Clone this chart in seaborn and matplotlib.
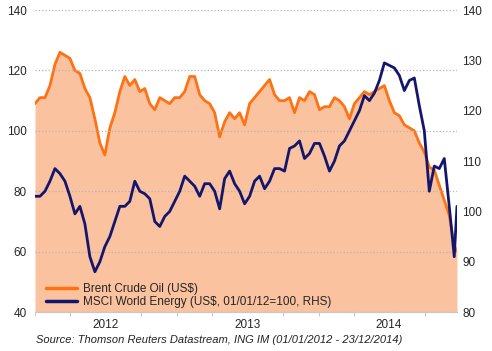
import numpy as np
import pandas as pd
import matplotlib
matplotlib.use('Agg')
import matplotlib.pyplot as plt
import matplotlib.dates as mdates
import seaborn as sns

# values, roughly every 2 weeks
brent = [109, 111, 111, 115, 122, 126, 125, 124, 120, 119,
         114, 111, 104, 96, 92, 101, 106, 113, 118, 115,
         117, 113, 114, 109, 107, 111, 110, 109, 111, 111,
         113, 118, 118, 112, 110, 109, 106, 98, 103, 106,
         104, 106, 102, 109, 111, 113, 115, 117, 112, 110,
         110, 111, 106, 111, 110, 113, 112, 107, 108, 108,
         111, 110, 108, 104, 109, 111, 113, 112, 113, 114,
         115, 110, 106, 105, 102, 101, 100, 96, 93, 88,
         87, 82, 77, 72, 62, 60]
msci = [103, 103, 104, 106, 108.5, 107.5, 106, 103, 99.5, 101,
        97.5, 91, 88, 90, 93, 95, 98, 101, 101, 102,
        106, 104, 103.5, 102.5, 98, 97, 99, 100, 102, 104,
        107, 106, 105, 103, 105.5, 105.5, 104, 100.5, 106.5, 108,
        105.5, 104, 101.5, 103, 106, 107, 104.5, 106, 108.5, 108.5,
        108, 112.5, 113, 114, 110.5, 111.5, 113.5, 113.5, 111, 108,
        110, 113, 114, 116, 118, 120, 123, 122, 123.5, 126,
        129.5, 129, 128.5, 127, 124, 126, 126.5, 121, 116, 104,
        109, 108.5, 110.5, 101, 91, 101]
dates = list(pd.date_range('2012-01-01', '2014-12-16', periods=85)) + [pd.Timestamp('2014-12-23')]
left_ticks = [40, 60, 80, 100, 120, 140]
right_ticks = [80, 90, 100, 110, 120, 130, 140]

df = pd.DataFrame({'date': dates, 'brent': brent, 'msci': msci})

sns.set_style('white')
plt.rcParams['font.family'] = ['Liberation Sans', 'DejaVu Sans']

fig = plt.figure(figsize=(4.92, 3.51), dpi=100)
ax = fig.add_axes([0.0711, 0.111, 0.8577, 0.8604])

ax.fill_between(df['date'], df['brent'], 40, color='#fbc29f', lw=0, zorder=0.3)
sns.lineplot(data=df, x='date', y='brent', ax=ax, color='#ff7214', lw=2, legend=False)
ax.set_ylim(40, 140)
ax.set_yticks(left_ticks)
ax.yaxis.grid(True, linestyle=':', color='#b4b4b4', lw=0.9)
ax.set_axisbelow(False)

ax2 = ax.twinx()
sns.lineplot(data=df, x='date', y='msci', ax=ax2, color='#14166e', lw=2, legend=False)
ax2.set_ylim(80, 140)
ax2.set_yticks(right_ticks)

ax.set_xlim(dates[0], dates[-1])
ax.xaxis.set_major_locator(mdates.MonthLocator(bymonth=7))
ax.xaxis.set_major_formatter(mdates.DateFormatter('%Y'))
ax.xaxis.set_minor_locator(mdates.MonthLocator(bymonth=[1, 4, 7, 10]))
ax.tick_params(axis='x', which='major', length=0, pad=5, labelsize=8.5)
ax.tick_params(axis='x', which='minor', length=3, color='#c0c0c0', bottom=True)
ax.tick_params(axis='y', length=0, pad=6, labelsize=8.5)
ax2.tick_params(axis='y', length=0, pad=4, labelsize=8.5)

for a in (ax, ax2):
    a.set_xlabel('')
    a.set_ylabel('')
    for s in ('top', 'left', 'right'):
        a.spines[s].set_visible(False)
    a.spines['bottom'].set_color('#c8c8c8')

h1 = plt.Line2D([], [], color='#ff7214', lw=2.5)
h2 = plt.Line2D([], [], color='#14166e', lw=2.5)
ax2.legend([h1, h2], ['Brent Crude Oil (US$)', 'MSCI World Energy (US$, 01/01/12=100, RHS)'],
           loc='lower left', bbox_to_anchor=(0.01, -0.01), frameon=False, fontsize=8.5,
           handlelength=2.6, handletextpad=0.5, labelspacing=0.05, borderaxespad=0.2)

fig.text(0.073, 0.031, 'Source: Thomson Reuters Datastream, ING IM (01/01/2012 - 23/12/2014)',
         style='italic', fontsize=8, va='center', color='#222222')

fig.savefig('out.png', dpi=100)
